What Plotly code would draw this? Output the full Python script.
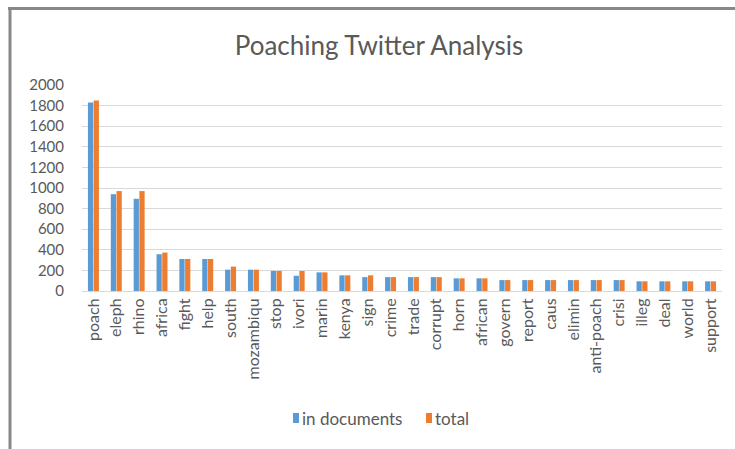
import plotly.graph_objects as go

categories = ["poach", "eleph", "rhino", "africa", "fight", "help", "south", "mozambiqu",
              "stop", "ivori", "marin", "kenya", "sign", "crime", "trade", "corrupt",
              "horn", "african", "govern", "report", "caus", "elimin", "anti-poach",
              "crisi", "illeg", "deal", "world", "support"]
in_documents = [1830, 940, 895, 357, 311, 311, 207, 207, 195, 148, 181, 152, 135, 135,
                135, 135, 123, 123, 106, 106, 106, 106, 106, 106, 94, 94, 94, 94]
total = [1850, 970, 970, 373, 311, 311, 237, 207, 195, 194, 181, 152, 152, 135,
         135, 135, 123, 123, 106, 106, 106, 106, 106, 106, 94, 94, 94, 94]
y_ticks = list(range(0, 2001, 200))
series_names = ["in documents", "total"]
series_colors = ["#5B9BD5", "#ED7D31"]

W, H = 735, 449
L, R, T, B = 82, 13, 85, 158
pw, ph = W - L - R, H - T - B

def px(x):
    return (x - L) / pw

def py(y):
    return (H - B - y) / ph

font_family = "Lato, Open Sans, sans-serif"
txt_color = "#595959"

fig = go.Figure()
for name, vals, col in zip(series_names, [in_documents, total], series_colors):
    fig.add_trace(go.Bar(x=categories, y=vals, name=name, showlegend=False,
                         marker=dict(color=col, line=dict(width=0))))

# custom legend (small squares tight to the text, as in the reference)
legend_x = [293, 426]
shapes = []
annotations = []
for name, col, lx in zip(series_names, series_colors, legend_x):
    shapes.append(dict(type="rect", xref="paper", yref="paper",
                       x0=px(lx), x1=px(lx + 6), y0=py(413), y1=py(423),
                       fillcolor=col, line=dict(width=0)))
    annotations.append(dict(text=name, xref="paper", yref="paper", x=px(lx + 7),
                            y=py(418), xanchor="left", yanchor="middle", showarrow=False,
                            font=dict(family=font_family, size=17, color=txt_color)))

shapes += [
    dict(type="line", xref="paper", yref="paper", x0=px(8), x1=px(740),
         y0=py(8.5), y1=py(8.5), line=dict(color="#888888", width=3)),
    dict(type="line", xref="paper", yref="paper", x0=px(10), x1=px(10),
         y0=py(7), y1=py(455), line=dict(color="#888888", width=3)),
]

fig.update_layout(
    width=W, height=H,
    margin=dict(l=L, r=R, t=T, b=B, autoexpand=False),
    paper_bgcolor="white", plot_bgcolor="white",
    barmode="group", bargap=0.5, bargroupgap=0.08,
    title=dict(text="Poaching Twitter Analysis", x=px(379), xanchor="center",
               y=1 - 46 / H, yanchor="middle", yref="container", xref="paper",
               font=dict(family=font_family, size=26, color=txt_color)),
    font=dict(family=font_family, size=15, color=txt_color),
    xaxis=dict(tickangle=-90, showgrid=False, showline=True, linecolor="#d9d9d9",
               linewidth=1, ticks="", tickfont=dict(size=16, color=txt_color)),
    yaxis=dict(range=[0, 2000], tickvals=y_ticks, showgrid=True, gridcolor="#d9d9d9",
               gridwidth=1, zeroline=False, showline=False, ticks="",
               tickfont=dict(size=15, color=txt_color), ticklabelstandoff=17),
    shapes=shapes,
    annotations=annotations,
)

fig.write_html("out.html")
